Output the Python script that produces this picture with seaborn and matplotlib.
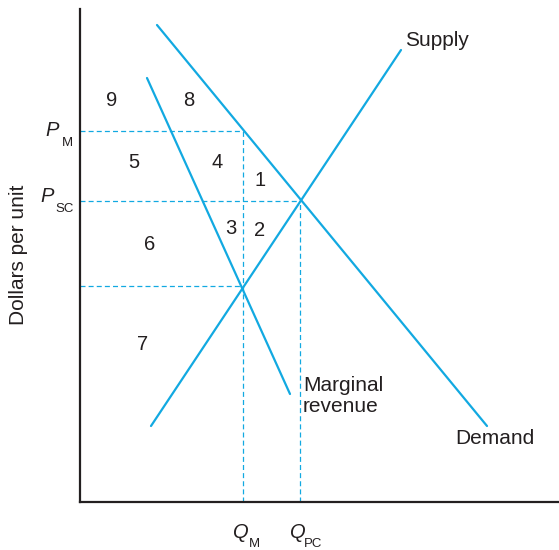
import numpy as np
import pandas as pd
import matplotlib
matplotlib.use("Agg")
import matplotlib.pyplot as plt
import seaborn as sns

# curve end points (quantity, dollars)
curve_names = ["Demand", "Marginal revenue", "Supply"]
curve_q = [[77, 407], [67, 210], [71, 321]]
curve_p = [[477, 76], [424, 108], [76, 452]]

# key levels
q_m, q_pc = 163, 220
p_m, p_sc, p_low = 371, 301, 216

# numbered areas
area_labels = ["9", "8", "5", "4", "1", "3", "2", "6", "7"]
area_q = [32, 109, 54, 137, 180, 151, 180, 70, 63]
area_p = [401, 401, 339, 339, 321, 273, 271, 258, 157]

blue = "#12A9E1"
ink = "#231F20"

sns.set_theme(style="white")
plt.rcParams["font.family"] = ["Liberation Sans", "DejaVu Sans"]

rows = []
for name, qs, ps in zip(curve_names, curve_q, curve_p):
    for q, p in zip(qs, ps):
        rows.append({"curve": name, "q": q, "p": p})
df = pd.DataFrame(rows)

fig = plt.figure(figsize=(5.59, 5.5), dpi=100)
ax = fig.add_axes([80 / 559, 48 / 550, 479 / 559, 493 / 550])

sns.lineplot(data=df, x="q", y="p", hue="curve", palette=[blue] * 3,
             sort=False, legend=False, linewidth=1.6, ax=ax)

dash_kw = dict(color=blue, linewidth=0.9, dashes=(4, 2.5))
ax.plot([0, q_m], [p_m, p_m], **dash_kw)
ax.plot([0, q_pc], [p_sc, p_sc], **dash_kw)
ax.plot([0, q_m], [p_low, p_low], **dash_kw)
ax.plot([q_m, q_m], [0, p_m], **dash_kw)
ax.plot([q_pc, q_pc], [0, p_sc], **dash_kw)

ax.set_xlim(0, 479)
ax.set_ylim(0, 493)
ax.set_xticks([])
ax.set_yticks([])
ax.set_xlabel("")
ax.set_ylabel("")
for side in ["top", "right"]:
    ax.spines[side].set_visible(False)
for side in ["left", "bottom"]:
    ax.spines[side].set_color(ink)
    ax.spines[side].set_linewidth(1.6)

fs = 15
for lab, q, p in zip(area_labels, area_q, area_p):
    ax.text(q, p, lab, ha="center", va="center", fontsize=14.5, color=ink)

ax.text(325, 462, "Supply", ha="left", va="center", fontsize=fs, color=ink)
ax.text(223, 106, "Marginal\nrevenue", ha="left", va="center", fontsize=fs,
        color=ink, linespacing=1.12)
ax.text(375, 63, "Demand", ha="left", va="center", fontsize=fs, color=ink)


def sub_label(x_main, y_main, main, x_sub, y_sub, sub):
    ax.text(x_main, y_main, main, ha="left", va="baseline", fontsize=14.5,
            fontstyle="italic", color=ink, clip_on=False)
    ax.text(x_sub, y_sub, sub, ha="left", va="baseline", fontsize=9.5,
            color=ink, clip_on=False)


sub_label(45 - 80, 502 - 136, "P", 62 - 80, 502 - 146, "M")
sub_label(40 - 80, 502 - 202, "P", 55 - 80, 502 - 212, "SC")
sub_label(233 - 80, 502 - 538, "Q", 249 - 80, 502 - 547, "M")
sub_label(290 - 80, 502 - 538, "Q", 304 - 80, 502 - 547, "PC")

fig.text(19 / 559, 1 - 255 / 550, "Dollars per unit", rotation=90,
         ha="center", va="center", fontsize=fs, color=ink)

fig.savefig("out.png", dpi=100)
